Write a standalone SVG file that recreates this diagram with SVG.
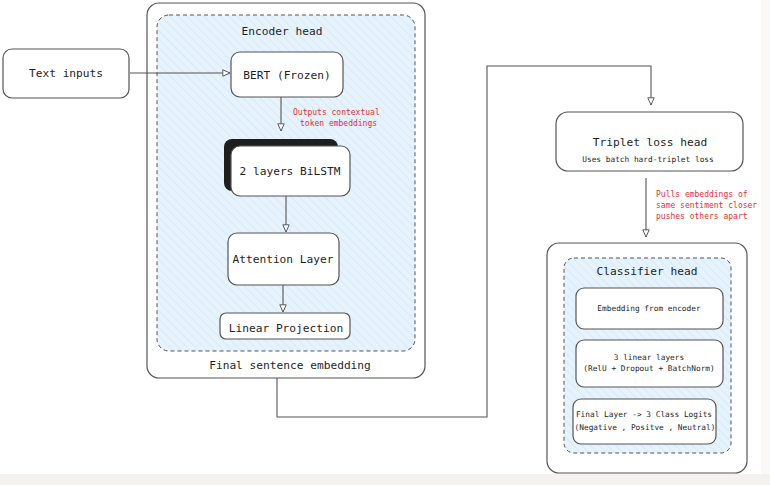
<svg xmlns="http://www.w3.org/2000/svg" width="770" height="485" viewBox="0 0 770 485">
<defs>
<pattern id="hatch" patternUnits="userSpaceOnUse" width="6" height="6" patternTransform="rotate(-45)">
<rect width="6" height="6" fill="#e6f3fd"/>
<line x1="0" y1="0" x2="0" y2="6" stroke="#d3e8fa" stroke-width="1.5"/>
</pattern>
<marker id="arr" viewBox="0 0 10 10" refX="10" refY="5" markerWidth="8" markerHeight="8" orient="auto" markerUnits="userSpaceOnUse">
<path d="M1,1 L10,5 L1,9 Z" fill="#fff" stroke="#555" stroke-width="1.2"/>
</marker>
<style>
.box{fill:#fff;stroke:#555;stroke-width:1.2}
.dash{fill:url(#hatch);stroke:#555;stroke-width:1;stroke-dasharray:4 3}
.t{font-family:"DejaVu Sans Mono","Liberation Mono",monospace;fill:#1e1e1e;text-anchor:middle}
.l{font-size:11.2px}
.s{font-size:7.8px}
.r{font-family:"DejaVu Sans Mono","Liberation Mono",monospace;fill:#e03131;font-size:8px}
.c{fill:none;stroke:#555;stroke-width:1.1}
</style>
</defs>
<rect x="0" y="0" width="770" height="485" fill="#fff"/>
<rect x="0" y="474" width="770" height="11" fill="#f3f2ee"/>
<rect x="761" y="0" width="9" height="474" fill="#faf9f7"/>

<g id="encoder-outer">
<rect class="box" x="147" y="3" width="278" height="375" rx="12"/>
<text class="t l" x="290" y="369">Final sentence embedding</text>
</g>
<g id="encoder-head">
<rect class="dash" x="157" y="15" width="258" height="336" rx="12"/>
<text class="t l" x="282" y="35">Encoder head</text>
</g>
<g id="text-inputs">
<rect class="box" x="3" y="49" width="126" height="49" rx="9"/>
<text class="t l" x="66" y="77">Text inputs</text>
</g>
<g id="bert">
<rect class="box" x="231" y="52" width="112" height="45" rx="9"/>
<text class="t l" x="287" y="79">BERT (Frozen)</text>
</g>
<g id="bilstm">
<rect x="224" y="139" width="114" height="52" rx="8" fill="#1e1e1e"/>
<rect class="box" x="231" y="146" width="119" height="50" rx="9"/>
<text class="t l" x="290" y="175">2 layers BiLSTM</text>
</g>
<g id="attention">
<rect class="box" x="228" y="233" width="111" height="52" rx="9"/>
<text class="t l" x="283" y="263">Attention Layer</text>
</g>
<g id="linear-projection">
<rect class="box" x="220" y="313" width="130" height="26" rx="6"/>
<text class="t l" x="286" y="332">Linear Projection</text>
</g>
<g id="triplet">
<rect class="box" x="556" y="112" width="187" height="59" rx="12"/>
<text class="t l" x="650" y="146">Triplet loss head</text>
<text class="t s" x="648" y="162">Uses batch hard-triplet loss</text>
</g>
<g id="classifier-outer">
<rect class="box" x="547" y="243" width="200" height="230" rx="12"/>
</g>
<g id="classifier-head">
<rect class="dash" x="564" y="258" width="167" height="195" rx="10"/>
<text class="t l" x="647" y="275">Classifier head</text>
</g>
<g id="embedding-from-encoder">
<rect class="box" x="576" y="288" width="147" height="41" rx="8"/>
<text class="t s" x="649" y="311">Embedding from encoder</text>
</g>
<g id="linear-layers">
<rect class="box" x="576" y="340" width="147" height="47" rx="8"/>
<text class="t s" x="649" y="360">3 linear layers</text>
<text class="t s" x="649" y="371">(RelU + Dropout + BatchNorm)</text>
</g>
<g id="final-layer">
<rect class="box" x="573" y="399" width="143" height="45" rx="8"/>
<text class="t s" x="644" y="417">Final Layer -&gt; 3 Class Logits</text>
<text class="t s" x="645" y="430">(Negative , Positve , Neutral)</text>
</g>

<g id="connectors">
<path class="c" d="M130,73 L230,73" marker-end="url(#arr)"/>
<path class="c" d="M281,97 L281,131" marker-end="url(#arr)"/>
<path class="c" d="M286,196 L286,232" marker-end="url(#arr)"/>
<path class="c" d="M283,285 L283,312" marker-end="url(#arr)"/>
<path class="c" d="M277,378 L277,417 L487,417 L487,66 L651,66 L651,105" marker-end="url(#arr)"/>
<path class="c" d="M646,178 L646,237" marker-end="url(#arr)"/>
<text class="r" x="293" y="115">Outputs contextual</text>
<text class="r" x="300" y="126">token embeddings</text>
<text class="r" x="656" y="197">Pulls embeddings of</text>
<text class="r" x="656" y="208">same sentiment closer</text>
<text class="r" x="656" y="219">pushes others apart</text>
</g>
</svg>
